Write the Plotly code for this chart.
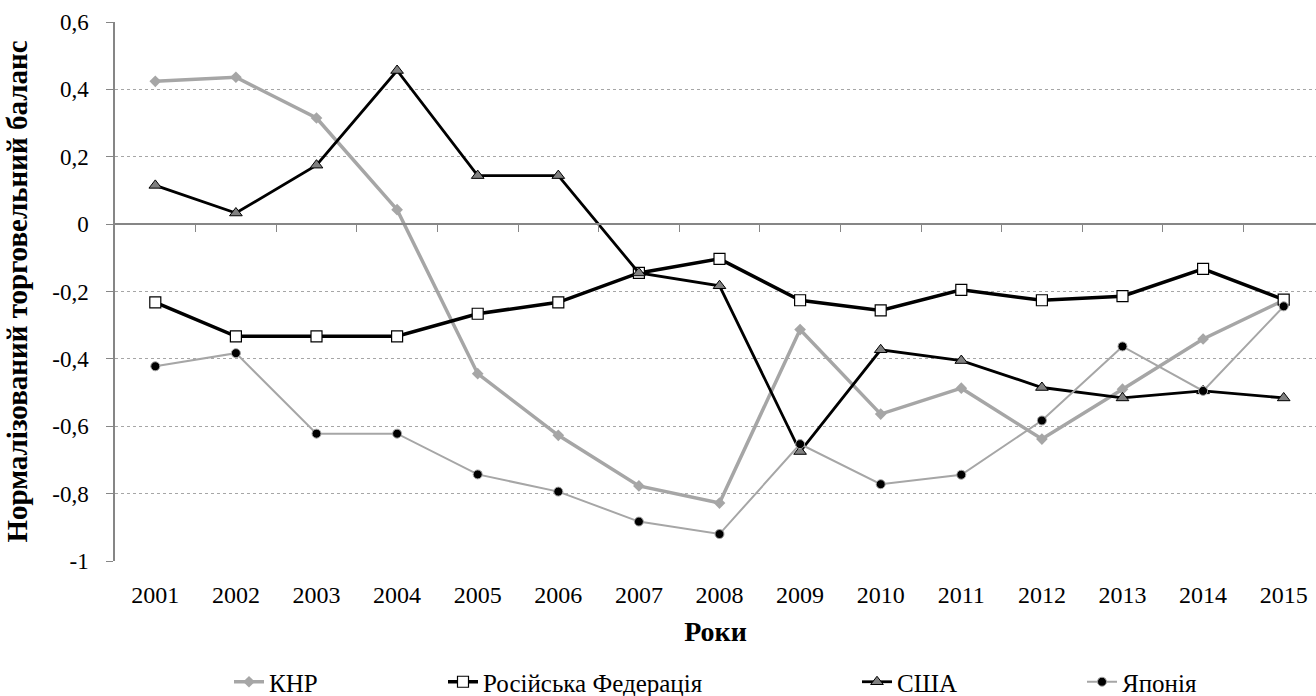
import plotly.graph_objects as go

years = list(range(2001, 2016))
year_labels = [str(y) for y in years]

china = [0.424, 0.436, 0.315, 0.043, -0.444, -0.627, -0.777, -0.828, -0.313, -0.564, -0.487, -0.638, -0.490, -0.341, -0.226]
russia = [-0.232, -0.333, -0.333, -0.333, -0.266, -0.232, -0.145, -0.103, -0.226, -0.256, -0.195, -0.226, -0.214, -0.133, -0.224]
usa = [0.115, 0.033, 0.175, 0.456, 0.144, 0.144, -0.145, -0.183, -0.675, -0.373, -0.405, -0.485, -0.516, -0.495, -0.516]
japan = [-0.422, -0.383, -0.622, -0.622, -0.743, -0.794, -0.883, -0.920, -0.653, -0.772, -0.744, -0.583, -0.363, -0.495, -0.244]

names = ["КНР", "Російська Федерація", "США", "Японія"]
y_ticks = [0.6, 0.4, 0.2, 0, -0.2, -0.4, -0.6, -0.8, -1]
y_ticktext = ["0,6", "0,4", "0,2", "0", "-0,2", "-0,4", "-0,6", "-0,8", "-1"]

FONT = "Liberation Serif, Times New Roman, serif"
W, H = 1316, 696

fig = go.Figure()

fig.add_trace(go.Scatter(
    x=years, y=china, name=names[0], mode="lines+markers",
    line=dict(color="#A6A6A6", width=3.5),
    marker=dict(symbol="diamond", size=9, color="#A6A6A6", line=dict(color="#A6A6A6", width=0)),
    legend="legend"))
fig.add_trace(go.Scatter(
    x=years, y=russia, name=names[1], mode="lines+markers",
    line=dict(color="#000000", width=3.5),
    marker=dict(symbol="square", size=11, color="#FFFFFF", line=dict(color="#000000", width=1.2)),
    legend="legend2"))
fig.add_trace(go.Scatter(
    x=years, y=usa, name=names[2], mode="lines+markers",
    line=dict(color="#000000", width=2.8),
    marker=dict(symbol="triangle-up", size=11, color="#808080", line=dict(color="#000000", width=1)),
    legend="legend3"))
fig.add_trace(go.Scatter(
    x=years, y=japan, name=names[3], mode="lines+markers",
    line=dict(color="#A6A6A6", width=2),
    marker=dict(symbol="circle", size=9, color="#000000", line=dict(color="#A6A6A6", width=1)),
    legend="legend4"))

x0 = 2000.5
xr = [x0, x0 + (W - 115) / 80.6]

def leg(text_start_px):
    return dict(
        orientation="h", xref="container", yref="container",
        x=(text_start_px - 40) / W, xanchor="left",
        y=1 - 682 / H, yanchor="middle",
        font=dict(family=FONT, size=25, color="#000000"),
        bgcolor="rgba(0,0,0,0)", borderwidth=0, itemwidth=30,
    )

fig.update_layout(
    width=W, height=H,
    margin=dict(l=115, r=0, t=22, b=H - 561),
    paper_bgcolor="white", plot_bgcolor="white",
    font=dict(family=FONT, color="#000000"),
    showlegend=True,
    legend=leg(269), legend2=leg(483), legend3=leg(897), legend4=leg(1122),
    xaxis=dict(
        range=xr, tickmode="array", tickvals=years, ticktext=year_labels,
        showgrid=False, zeroline=False, showline=False, ticks="",
        ticklabelstandoff=17,
        tickfont=dict(family=FONT, size=24, color="#000000"),
        title=dict(text="<b>Роки</b>", font=dict(family=FONT, size=28, color="#000000"), standoff=14),
    ),
    xaxis2=dict(
        overlaying="x", anchor="free", position=(0 - (-1)) / 1.6, side="bottom",
        range=xr, tickmode="array", tickvals=[y + 0.5 for y in years[:-1]],
        showticklabels=False, ticks="outside", ticklen=7, tickcolor="#868686", tickwidth=1,
        showline=True, linecolor="#868686", linewidth=1.5, showgrid=False, zeroline=False,
    ),
    yaxis=dict(
        range=[-1, 0.6], tickmode="array", tickvals=y_ticks, ticktext=y_ticktext,
        showgrid=True, gridcolor="#A6A6A6", griddash="3px,3px", gridwidth=1,
        zeroline=False, showline=True, linecolor="#868686", linewidth=1.5,
        ticks="outside", ticklen=7, tickcolor="#868686",
        ticklabelstandoff=13,
        tickfont=dict(family=FONT, size=23, color="#000000"),
        title=dict(text="<b>Нормалізований торговельний баланс</b>",
                   font=dict(family=FONT, size=29, color="#000000"), standoff=16),
    ),
)

# invisible trace bound to x2 so the overlay (zero-line) axis is drawn
fig.add_trace(go.Scatter(x=[years[0]], y=[0], xaxis="x2", mode="markers",
                         marker=dict(opacity=0), showlegend=False, hoverinfo="skip"))

fig.write_html("out.html", config={"displayModeBar": False},
               post_script="document.body.style.margin='0';")
